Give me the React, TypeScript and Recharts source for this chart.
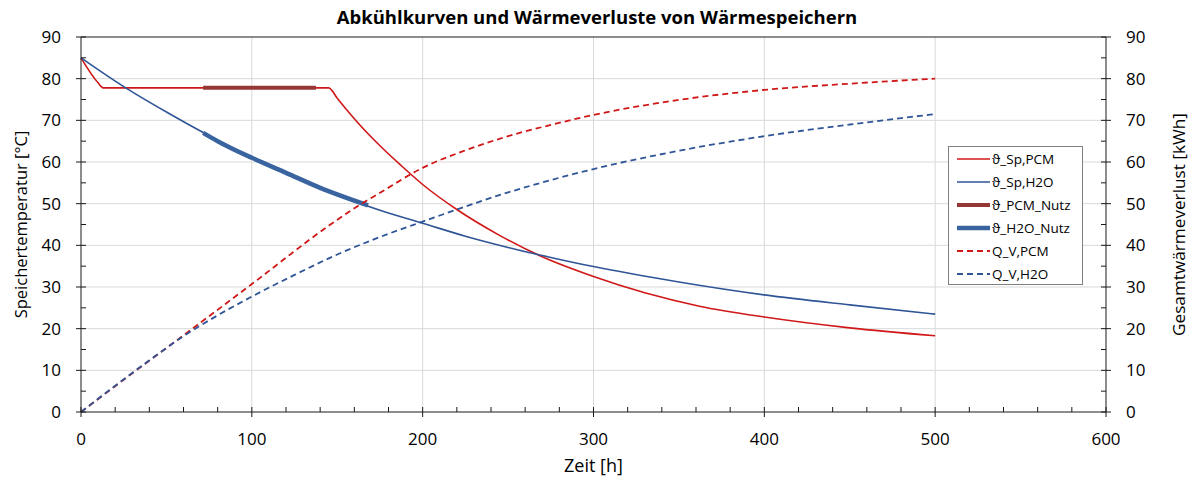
import React from 'react';
import { LineChart, Line, XAxis, YAxis, CartesianGrid, ReferenceLine, Legend, Label } from 'recharts';

// storage temperature, PCM tank [°C]
const pcmTempTime = [0, 10, 13, 40, 80, 120, 145, 150, 155, 160, 165, 175, 187, 200, 220, 245, 268, 300, 330, 362, 400, 450, 500];
const pcmTemp = [85, 79, 77.8, 77.8, 77.8, 77.8, 77.8, 75.3, 72.8, 70.4, 68.1, 63.9, 59.3, 54.6, 48.6, 42.4, 37.6, 32.5, 28.6, 25.4, 22.8, 20.2, 18.3];

// storage temperature, water tank [°C]
const h2oTempTime = [0, 25, 50, 75, 100, 125, 150, 175, 200, 225, 250, 275, 300, 350, 400, 450, 500];
const h2oTemp = [85, 78.1, 72, 66.3, 61, 56.5, 52.2, 48.4, 45.3, 42.2, 39.5, 37.1, 34.9, 31.2, 28.1, 25.7, 23.5];

// usable ranges
const pcmNutzTime = [71.5, 137.5];
const pcmNutz = [77.8, 77.8];
const h2oNutzTime = [71.5, 80, 100, 120, 140, 168];
const h2oNutz = [67, 65, 61, 57.4, 53.8, 49.6];

// cumulative heat loss [kWh]
const qPcmTime = [0, 20, 60, 100, 145, 160, 175, 200, 225, 250, 275, 300, 350, 400, 450, 500];
const qPcm = [0, 6.2, 18.4, 30.7, 44.7, 48.9, 52.6, 58.6, 62.8, 66.2, 68.9, 71.3, 74.9, 77.3, 78.8, 80.0];
const qH2oTime = [0, 20, 40, 60, 80, 100, 125, 150, 175, 200, 250, 300, 350, 400, 450, 500];
const qH2o = [0, 6.3, 12.4, 18.2, 23.2, 27.7, 32.9, 37.8, 42.0, 45.7, 52.7, 58.3, 62.7, 66.2, 69.0, 71.5];

const xTicks = Array.from({ length: 31 }, (_, i) => i * 20);
const yTicks = Array.from({ length: 19 }, (_, i) => i * 5);
const xGrid = [100, 200, 300, 400, 500];
const yGrid = [10, 20, 30, 40, 50, 60, 70, 80];

const toPoints = (ts: number[], vs: number[]) => ts.map((t, i) => ({ t, v: vs[i] }));

const FONT = '"Open Sans", sans-serif';
const RED = '#d01818';
const BLUE = '#2f5597';
const AXIS = '#1a1a1a';

const series = [
  { name: 'ϑ_Sp,PCM', data: toPoints(pcmTempTime, pcmTemp), axis: 'left', color: RED, width: 1.6, dash: undefined },
  { name: 'ϑ_Sp,H2O', data: toPoints(h2oTempTime, h2oTemp), axis: 'left', color: BLUE, width: 1.6, dash: undefined },
  { name: 'ϑ_PCM_Nutz', data: toPoints(pcmNutzTime, pcmNutz), axis: 'left', color: '#953735', width: 4, dash: undefined },
  { name: 'ϑ_H2O_Nutz', data: toPoints(h2oNutzTime, h2oNutz), axis: 'left', color: '#3a64a0', width: 4.5, dash: undefined },
  { name: 'Q_V,PCM', data: toPoints(qPcmTime, qPcm), axis: 'right', color: RED, width: 1.8, dash: '6 4' },
  { name: 'Q_V,H2O', data: toPoints(qH2oTime, qH2o), axis: 'right', color: BLUE, width: 1.8, dash: '6 4' },
];

const XTick = ({ x, y, payload }: any) => {
  const major = payload.value % 100 === 0;
  return (
    <g>
      <line x1={x} x2={x} y1={y - 5} y2={major ? y + 5 : y} stroke={AXIS} strokeWidth={1} />
      {major && (
        <text x={x} y={y + 33} textAnchor="middle" fontSize={17} fontFamily={FONT} fill="#000">
          {payload.value}
        </text>
      )}
    </g>
  );
};

const YTick = ({ x, y, payload, side }: any) => {
  const major = payload.value % 10 === 0;
  const dir = side === 'left' ? -1 : 1;
  return (
    <g>
      <line x1={major ? x + 5 * dir : x} x2={major ? x - 5 * dir : x - 5 * dir} y1={y} y2={y} stroke={AXIS} strokeWidth={1} />
      {major && (
        <text x={x + 20 * dir} y={y + 6} textAnchor={side === 'left' ? 'end' : 'start'} fontSize={17} fontFamily={FONT} fill="#000">
          {payload.value}
        </text>
      )}
    </g>
  );
};

const SideLabel = ({ viewBox, text, x, size }: any) => {
  const cy = viewBox.y + viewBox.height / 2;
  return (
    <text x={x} y={cy} transform={`rotate(-90 ${x} ${cy})`} textAnchor="middle" dominantBaseline="central" fontSize={size} fontFamily={FONT} fill="#000">
      {text}
    </text>
  );
};

const LegendBox = () => (
  <div style={{ width: 135, height: 139, boxSizing: 'border-box', border: '1px solid #808080', background: '#fff', paddingLeft: 8, fontFamily: FONT, fontSize: 13.5, color: '#000' }}>
    {series.map((s) => (
      <div key={s.name} style={{ display: 'flex', alignItems: 'center', height: 23 }}>
        <svg width={33} height={8}>
          <line x1={0} x2={33} y1={4} y2={4} stroke={s.color} strokeWidth={s.width} strokeDasharray={s.dash} />
        </svg>
        <span style={{ marginLeft: 2, whiteSpace: 'nowrap' }}>{s.name}</span>
      </div>
    ))}
  </div>
);

export default function App() {
  return (
    <div style={{ position: 'absolute', left: 0, top: 0, width: 1194, height: 477, background: '#fff' }}>
      <div style={{ position: 'absolute', left: 0, top: 4, width: 1194, textAlign: 'center', fontFamily: FONT, fontWeight: 700, fontSize: 18.5, color: '#000' }}>
        Abkühlkurven und Wärmeverluste von Wärmespeichern
      </div>
      <LineChart width={1194} height={477} margin={{ top: 37, right: 0, bottom: 0, left: 0 }}>
        <CartesianGrid yAxisId="left" stroke="#d9d9d9" horizontalValues={yGrid} verticalValues={xGrid} />
        <XAxis
          type="number"
          dataKey="t"
          domain={[0, 600]}
          ticks={xTicks}
          interval={0}
          height={65}
          tickSize={0}
          tickMargin={0}
          tickLine={false}
          axisLine={{ stroke: AXIS }}
          tick={<XTick />}
        >
          <Label content={(p: any) => (
            <text x={p.viewBox.x + p.viewBox.width / 2} y={472} textAnchor="middle" fontSize={18} fontFamily={FONT} fill="#000">Zeit [h]</text>
          )} />
        </XAxis>
        <YAxis
          yAxisId="left"
          type="number"
          domain={[0, 90]}
          ticks={yTicks}
          interval={0}
          width={81}
          tickSize={0}
          tickMargin={0}
          tickLine={false}
          axisLine={{ stroke: AXIS }}
          tick={<YTick side="left" />}
        >
          <Label content={(p: any) => <SideLabel viewBox={p.viewBox} x={20} size={16.5} text="Speichertemperatur [°C]" />} />
        </YAxis>
        <YAxis
          yAxisId="right"
          orientation="right"
          type="number"
          domain={[0, 90]}
          ticks={yTicks}
          interval={0}
          width={88}
          tickSize={0}
          tickMargin={0}
          tickLine={false}
          axisLine={{ stroke: AXIS }}
          tick={<YTick side="right" />}
        >
          <Label content={(p: any) => <SideLabel viewBox={p.viewBox} x={1178} size={17.2} text="Gesamtwärmeverlust [kWh]" />} />
        </YAxis>
        <ReferenceLine yAxisId="left" y={90} stroke={AXIS} />
        {series.map((s) => (
          <Line
            key={s.name}
            data={s.data}
            dataKey="v"
            yAxisId={s.axis}
            type="monotone"
            stroke={s.color}
            strokeWidth={s.width}
            strokeDasharray={s.dash}
            dot={false}
            activeDot={false}
            isAnimationActive={false}
            name={s.name}
          />
        ))}
        <Legend
          layout="vertical"
          align="center"
          verticalAlign="middle"
          content={<LegendBox />}
          wrapperStyle={{ left: 948, top: 146, width: 'auto', height: 'auto' }}
        />
      </LineChart>
    </div>
  );
}
